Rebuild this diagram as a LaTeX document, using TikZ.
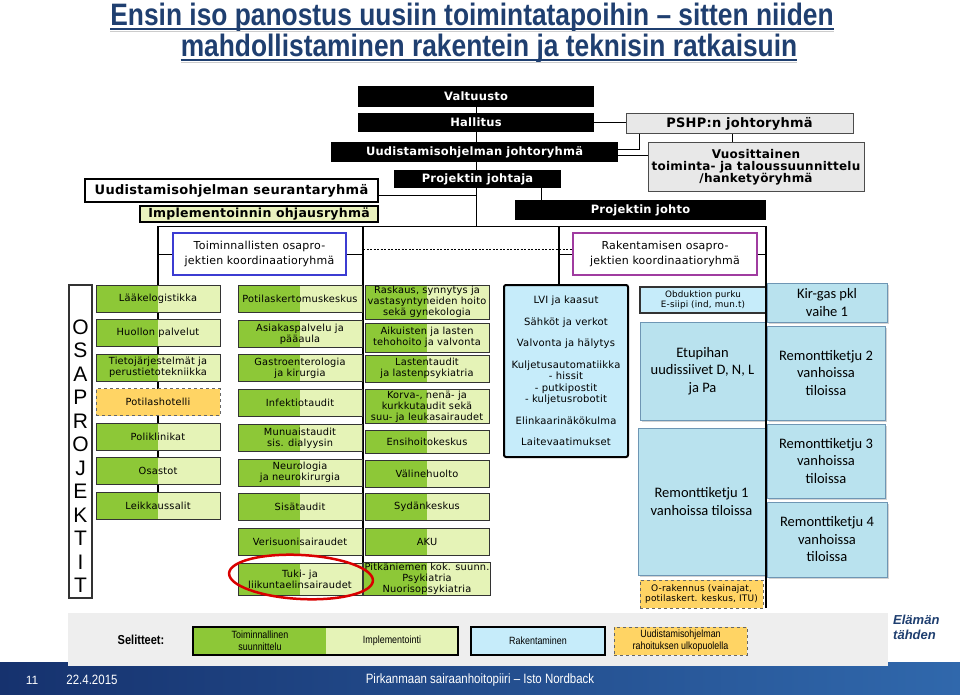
\documentclass[tikz,border=0pt]{standalone}
\usepackage{fontspec}
\setmainfont{Liberation Sans}
\newfontfamily\verd{DejaVu Sans}[LetterSpace=2]
\newfontfamily\cali{Carlito}
\newfontfamily\narrow{Liberation Sans}[FakeStretch=0.85]
\usetikzlibrary{backgrounds,shadows}
\definecolor{titleblue}{RGB}{31,63,112}
\definecolor{plangreen}{RGB}{141,200,55}
\definecolor{implgreen}{RGB}{229,243,183}
\definecolor{hotelorange}{RGB}{255,212,100}
\definecolor{rakblue}{RGB}{185,226,238}
\definecolor{lviblue}{RGB}{198,236,250}
\definecolor{rakedge}{RGB}{110,150,180}
\definecolor{pshpgrey}{RGB}{232,232,232}
\definecolor{implyellow}{RGB}{234,242,190}
\definecolor{coordblue}{RGB}{60,60,210}
\definecolor{coordpurple}{RGB}{160,60,160}
\definecolor{legendgrey}{RGB}{238,238,238}
\definecolor{footleft}{RGB}{22,50,110}
\definecolor{footright}{RGB}{48,104,172}
\begin{document}
\begin{tikzpicture}[x=1pt,y=-1pt,
  blackbox/.style={fill=black, text=white, inner sep=0pt, font=\verd\bfseries\fontsize{11.5}{12}\selectfont},
  greybox/.style={fill=pshpgrey, draw=black!70, line width=1pt, inner sep=0pt, align=center, font=\verd\bfseries\fontsize{12}{12}\selectfont},
  coordbox/.style={fill=white, line width=1.3pt, inner sep=0pt, align=center, font=\verd\fontsize{11}{14.5}\selectfont},
  greenbox/.style={draw=black!80, line width=1pt, fill=plangreen, minimum width=124, minimum height=27, inner sep=1pt, align=center,
    font=\verd\fontsize{9.8}{11}\selectfont,
    path picture={\fill[implgreen] (path picture bounding box.north) rectangle (path picture bounding box.south east);}},
  hotelbox/.style={draw=black!60, dashed, line width=0.8pt, fill=hotelorange, inner sep=1pt, align=center},
  rakbox/.style={fill=rakblue, draw=rakedge, line width=0.8pt, inner sep=0pt, align=center,
    font=\cali\fontsize{14.5}{17.5}\selectfont, drop shadow={shadow xshift=1.5pt, shadow yshift=-1.5pt, opacity=0.35}},
  legtext/.style={inner sep=0pt, align=center, font=\narrow\fontsize{10.5}{12}\selectfont}]

\useasboundingbox (0,0) rectangle (960,695);

%title
\node[anchor=base, inner sep=0, text=titleblue, font=\narrow\bfseries\fontsize{31}{31}\selectfont] (t1) at (472,26)
  {Ensin iso panostus uusiin toimintatapoihin – sitten niiden};
\node[anchor=base, inner sep=0, text=titleblue, font=\narrow\bfseries\fontsize{31}{31}\selectfont] (t2) at (489,57)
  {mahdollistaminen rakentein ja teknisin ratkaisuin};
\foreach \t in {t1,t2}{
  \draw[black!20, line width=1.5pt] ([yshift=-5.5pt]\t.base west) -- ([yshift=-5.5pt]\t.base east);
  \draw[titleblue, line width=2pt] ([yshift=-3.5pt]\t.base west) -- ([yshift=-3.5pt]\t.base east);
}

%hierarchy
\node[blackbox, minimum width=236, minimum height=21] (valt) at (476,96.5) {Valtuusto};
\node[blackbox, minimum width=236, minimum height=19] (hall) at (476,122.5) {Hallitus};
\node[blackbox, minimum width=287, minimum height=20] (uoj) at (474.5,152) {Uudistamisohjelman johtoryhmä};
\node[blackbox, minimum width=167, minimum height=18] (pjr) at (477.5,179) {Projektin johtaja};
\node[blackbox, minimum width=251, minimum height=20] (pjo) at (640.5,210) {Projektin johto};
\node[greybox, minimum width=227, minimum height=20, font=\verd\bfseries\fontsize{13}{13}\selectfont] (pshp) at (739.5,124) {PSHP:n johtoryhmä};
\node[greybox, minimum width=216, minimum height=48] (vuo) at (756,167) {Vuosittainen\\toiminta- ja taloussuunnittelu\\/hanketyöryhmä};
\node[draw, fill=white, line width=1.2pt, minimum width=293, minimum height=23, inner sep=0,
  font=\verd\bfseries\fontsize{13}{13}\selectfont] (seur) at (231.5,190.5) {Uudistamisohjelman seurantaryhmä};
\node[draw, fill=implyellow, line width=1.2pt, minimum width=238, minimum height=16, inner sep=0,
  font=\verd\bfseries\fontsize{12.5}{12.5}\selectfont] (impl) at (259,214) {Implementoinnin ohjausryhmä};
\node[coordbox, draw=coordblue, minimum width=173, minimum height=42] (tk) at (259.5,254) {Toiminnallisten osapro-\\jektien koordinaatioryhmä};
\node[coordbox, draw=coordpurple, minimum width=184, minimum height=42] (rk) at (665,254) {Rakentamisen osapro-\\jektien koordinaatioryhmä};

\coordinate (fl) at (158,226);
\coordinate (fm) at (363,226);
\coordinate (fr1) at (559,226);
\coordinate (fr2) at (766,226);

%osaprojektit
\node[draw=black!80, fill=white, line width=1.2pt, minimum width=23, minimum height=313, inner sep=0] (osa) at (80.5,441.5) {};
\foreach \l [count=\i] in {O,S,A,P,R,O,J,E,K,T,I,T}{
  \node[inner sep=0, font=\fontsize{21}{21}\selectfont] (os\i) at (80.5,303.5+23.5*\i) {\l};
}

%toiminnalliset
\foreach \n/\t/\y in {1/Lääkelogistikka/298.5, 2/Huollon palvelut/333, 3/{Tietojärjestelmät ja\\perustietotekniikka}/367.5,
  5/Poliklinikat/436.5, 6/Osastot/471, 7/Leikkaussalit/505.5}{
  \node[greenbox] (a\n) at (158,\y) {\t};
}
\node[hotelbox, minimum width=124, minimum height=27, font=\verd\fontsize{9.8}{11}\selectfont] (a4) at (158,402) {Potilashotelli};

\foreach \n/\t/\y/\h in {1/Potilaskertomuskeskus/299/27, 2/{Asiakaspalvelu ja\\pääaula}/334/27, 3/{Gastroenterologia\\ja kirurgia}/368/27,
  4/Infektiotaudit/403/27, 5/{Munuaistaudit\\sis. dialyysin}/438/27, 6/{Neurologia\\ja neurokirurgia}/472.5/27,
  7/Sisätaudit/507/27, 8/Verisuonisairaudet/542/27, 9/{Tuki- ja\\liikuntaelinsairaudet}/579/32}{
  \node[greenbox, minimum height=\h] (b\n) at (300,\y) {\t};
}

\foreach \n/\t/\y/\h in {1/{Raskaus, synnytys ja\\vastasyntyneiden hoito\\sekä gynekologia}/302/34, 2/{Aikuisten ja lasten\\tehohoito ja valvonta}/337.5/29,
  3/{Lastentaudit\\ja lastenpsykiatria}/368.5/27, 4/{Korva-, nenä- ja\\kurkkutaudit sekä\\suu- ja leukasairaudet}/406.5/33,
  5/Ensihoitokeskus/441.5/23, 6/Välinehuolto/473.5/27, 7/Sydänkeskus/507/27, 8/AKU/542/27,
  9/{Pitkäniemen kok. suunn.\\Psykiatria\\Nuorisopsykiatria}/579/32}{
  \node[greenbox, minimum height=\h] (c\n) at (427,\y) {\t};
}

%rakentaminen
\node[fill=lviblue, draw, line width=2pt, rounded corners=2pt, minimum width=124, minimum height=172, inner sep=0, align=center,
  font=\verd\fontsize{10}{11.5}\selectfont] (lvi) at (566,371)
  {LVI ja kaasut\\[10pt]Sähköt ja verkot\\[10pt]Valvonta ja hälytys\\[10pt]Kuljetusautomatiikka\\- hissit\\- putkipostit\\- kuljetusrobotit\\[10pt]Elinkaarinäkökulma\\[10pt]Laitevaatimukset};
\node[fill=lviblue, draw=black!80, line width=1.2pt, minimum width=126, minimum height=26, inner sep=0, align=center,
  font=\verd\fontsize{8.8}{10.5}\selectfont] (obd) at (703,300) {Obduktion purku\\E-siipi (ind, mun.t)};
\node[rakbox, minimum width=120, minimum height=39] (kir) at (827,302.5) {Kir-gas pkl\\vaihe 1};
\node[rakbox, minimum width=125, minimum height=98] (ety) at (702.5,371) {Etupihan\\uudissiivet D, N, L\\ja Pa};
\node[rakbox, minimum width=118, minimum height=94] (rem2) at (826,373) {Remonttiketju 2\\vanhoissa\\tiloissa};
\node[rakbox, minimum width=127, minimum height=147] (rem1) at (701.5,501.5) {Remonttiketju 1\\vanhoissa tiloissa};
\node[rakbox, minimum width=118, minimum height=74] (rem3) at (826,461) {Remonttiketju 3\\vanhoissa\\tiloissa};
\node[rakbox, minimum width=120, minimum height=75] (rem4) at (827,539.5) {Remonttiketju 4\\vanhoissa\\tiloissa};
\node[hotelbox, minimum width=123, minimum height=28, font=\verd\fontsize{9}{10.5}\selectfont] (orak) at (701.5,594)
  {O-rakennus (vainajat,\\potilaskert. keskus, ITU)};

%connectors
\begin{scope}[on background layer]
\draw[line width=1pt] (fl) -- (fr2);
\draw[line width=1pt] (valt.south) -- (valt.south |- fl);
\draw[line width=1.2pt] (fl) -- (a7.center);
\draw[line width=1.2pt] (fm) -- (fm |- c9.south);
\draw[line width=1.2pt] (fr1) -- (fr1 |- lvi.north);
\end{scope}
\draw[line width=1.6pt] (fr2) -- (fr2 |- orak.south);
\draw[line width=1pt] ([yshift=-5pt]seur.east) -- ([yshift=-5pt]seur.east -| valt.south);
\draw[line width=1pt] (hall.east) -- (hall.east -| pshp.west);
\draw[line width=1pt] ([yshift=2pt]uoj.east) -| ([xshift=14pt]pshp.south west);
\draw[line width=1pt] ([yshift=-4pt]uoj.east) -- ([yshift=-4pt]uoj.east -| vuo.west);
\draw[line width=1pt] ([xshift=-7pt]pshp.south) -- ([xshift=-7pt]pshp.south |- vuo.north);
\draw[line width=1pt] ([xshift=-20pt]pjr.south east) -- ([xshift=-20pt]pjr.south east |- pjo.north);
\draw[line width=1pt] (tk.west -| fl) -- (tk.west);
\draw[line width=1pt] (tk.east) -- (tk.east -| fm);
\draw[line width=1pt] (rk.west -| fr1) -- (rk.west);
\draw[line width=1pt] (rk.east) -- (rk.east -| fr2);
\draw[line width=0.6pt, dashed, dash pattern=on 2pt off 1.5pt] ([yshift=5pt]tk.east -| fm) -- ([yshift=5pt]rk.west);

\draw[red!85!black, line width=2.5pt, rotate around={-3:(301,577)}] (301,577) ellipse [x radius=72, y radius=22];

%footer
\shade[left color=footleft, right color=footright] (0,662) rectangle (960,695);
\fill[legendgrey] (68,613) rectangle (888,666);
\node[inner sep=0, font=\narrow\bfseries\fontsize{13}{13}\selectfont] (sel) at (141,640) {Selitteet:};
\node[greenbox, minimum width=265, minimum height=28, line width=1.5pt, draw=black] (lg1) at (325.5,641) {};
\node[legtext] (lgt1) at (260,641) {Toiminnallinen\\suunnittelu};
\node[legtext] (lgt2) at (392,641) {Implementointi};
\node[legtext, fill=lviblue, draw=black, line width=1.5pt, minimum width=134, minimum height=28] (lg2) at (538,641) {Rakentaminen};
\node[legtext, hotelbox, minimum width=133, minimum height=28] (lg3) at (680.5,641) {Uudistamisohjelman\\rahoituksen ulkopuolella};
\node[anchor=west, inner sep=0, align=left, text=titleblue, font=\bfseries\itshape\fontsize{13}{15}\selectfont] (elt) at (893,627) {Elämän\\tähden};
\node[inner sep=0, text=white, font=\fontsize{12}{12}\selectfont] (pg) at (32,680) {11};
\node[inner sep=0, text=white, font=\narrow\fontsize{13.5}{13.5}\selectfont] (pvm) at (92,680) {22.4.2015};
\node[inner sep=0, text=white, font=\narrow\fontsize{13.5}{13.5}\selectfont] (org) at (480,680) {Pirkanmaan sairaanhoitopiiri – Isto Nordback};

\end{tikzpicture}
\end{document}
